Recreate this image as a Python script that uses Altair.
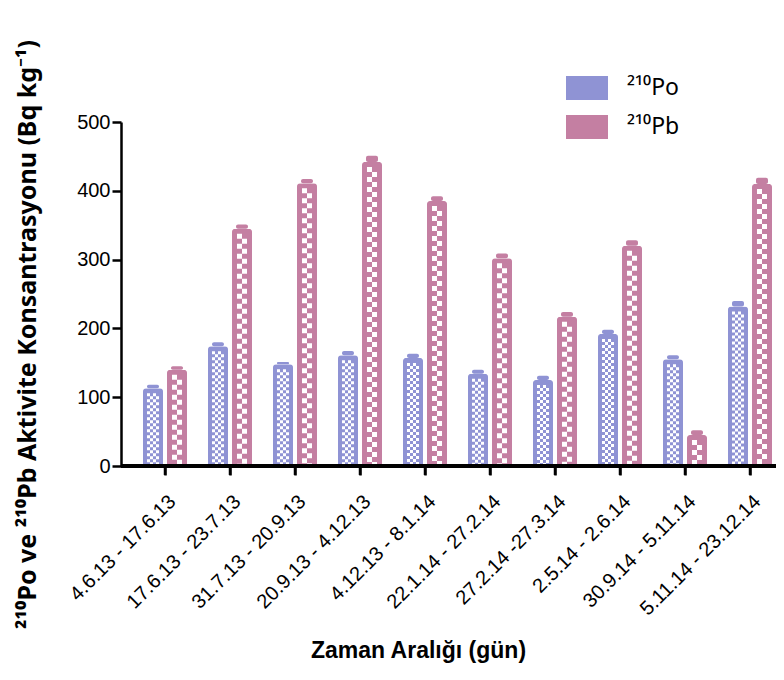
import altair as alt
import pandas as pd

FONT = "Liberation Sans"
SUP_FONT = "Noto Sans"  # consistent superscript digits (⁰¹²⁻)

periods = [
    "4.6.13 - 17.6.13",
    "17.6.13 - 23.7.13",
    "31.7.13 - 20.9.13",
    "20.9.13 - 4.12.13",
    "4.12.13 - 8.1.14",
    "22.1.14 - 27.2.14",
    "27.2.14 -27.3.14",
    "2.5.14 - 2.6.14",
    "30.9.14 - 5.11.14",
    "5.11.14 - 23.12.14",
]
po_values = [113, 174, 148, 161, 157, 134, 125, 192, 155, 232]
po_err = [5, 6, 3, 6, 6, 6, 6, 6, 6, 8]
pb_values = [140, 345, 411, 442, 385, 302, 217, 320, 45, 410]
pb_err = [5, 6, 6, 9, 7, 7, 7, 8, 7, 9]

series_keys = ["Po", "Pb"]
series_labels = ["²¹⁰Po", "²¹⁰Pb"]
colors = ["#8f93d4", "#c47fa2"]

rows = []
for p, v, e in zip(periods, po_values, po_err):
    rows.append({"period": p, "key": series_keys[0], "series": series_labels[0], "value": v, "err": e})
for p, v, e in zip(periods, pb_values, pb_err):
    rows.append({"period": p, "key": series_keys[1], "series": series_labels[1], "value": v, "err": e})
df = pd.DataFrame(rows)

x_enc = alt.X(
    "period:N",
    sort=periods,
    scale=alt.Scale(range=[11.5, 661.5], paddingInner=0, paddingOuter=0),
    axis=alt.Axis(
        title="Zaman Aralığı (gün)",
        domain=False,
        ticks=True,
        tickBand="center",
        tickOffset=0,
        tickSize=9,
        tickWidth=2.5,
        tickColor="#000000",
        tickOpacity=1,
        labelAngle=-45,
        labelFontSize=20,
        labelPadding=16,
        titleFontSize=23,
        titleFontWeight="bold",
        titleX=297,
        titleY=184,
        titleBaseline="middle",
        zindex=1,
    ),
)
y_enc = alt.Y(
    "value:Q",
    scale=alt.Scale(domain=[0, 500], nice=False),
    axis=alt.Axis(
        values=[0, 100, 200, 300, 400, 500],
        title="²¹⁰Po ve ²¹⁰Pb Aktivite Konsantrasyonu (Bq kg⁻¹)",
        titleFont=SUP_FONT,
        titleFontSize=25,
        titleFontWeight="bold",
        titleX=-94,
        titleY=212,
        titleBaseline="middle",
        titleAngle=270,
        grid=False,
        labelFontSize=20,
        labelPadding=2,
    ),
)
xo_scale = alt.Scale(domain=[-32.5, 32.5], range=[0, 65])

color_enc = alt.Color(
    "series:N",
    scale=alt.Scale(domain=series_labels, range=colors),
    legend=alt.Legend(
        title=None,
        orient="none",
        legendX=445,
        legendY=-55,
        symbolType="M-1,-0.5714H1V0.5714H-1Z",
        symbolSize=1764,
        symbolStrokeWidth=0,
        symbolOpacity=1,
        labelFont=SUP_FONT,
        labelFontSize=23,
        labelOffset=19,
        rowPadding=6,
    ),
)

base = alt.Chart(df).transform_calculate(
    off="datum.key == 'Po' ? -12 : 12",
    top="datum.value + datum.err",
)

caps = base.mark_bar(width=12, cornerRadius=2).encode(
    x=x_enc,
    xOffset=alt.XOffset("off:Q", scale=xo_scale),
    y=y_enc,
    y2="top:Q",
    color=color_enc,
)

bars = base.mark_bar(width=20, cornerRadiusTopLeft=3, cornerRadiusTopRight=3).encode(
    x=x_enc,
    xOffset=alt.XOffset("off:Q", scale=xo_scale),
    y=y_enc,
    color=color_enc,
)

layers = [caps, bars]

# checker pattern: Pb -> 2 columns of 5px squares, Po -> 4 columns of 3px squares
pattern_specs = [
    ("Pb", -2.5, 5, 0), ("Pb", 2.5, 5, 5),
    ("Po", -4.5, 3, 0), ("Po", -1.5, 3, 3), ("Po", 1.5, 3, 0), ("Po", 4.5, 3, 3),
]
for key, dx, sz, dash_off in pattern_specs:
    layers.append(
        base.transform_filter(f"datum.key == '{key}'")
        .transform_calculate(col=f"datum.off + ({dx})")
        .mark_rule(
            color="white",
            strokeWidth=sz,
            strokeDash=[sz, sz],
            strokeDashOffset=dash_off,
            strokeCap="butt",
            yOffset=5,
            y2Offset=-1.5,
        )
        .encode(
            x=x_enc,
            xOffset=alt.XOffset("col:Q", scale=xo_scale),
            y=y_enc,
            y2=alt.datum(0),
        )
    )

# x-axis baseline across the whole plot width
baseline = base.mark_rule(color="black", strokeWidth=2.5).encode(y=alt.datum(0))
layers.append(baseline)

# x-axis ticks at each group centre, drawn as thin bars below the axis
tick_bars = (
    base.transform_filter("datum.key == 'Po'")
    .transform_calculate(c="0", y0="0", y1="-13")
    .mark_bar(color="black", width=2.5, clip=False)
    .encode(
        x=x_enc,
        xOffset=alt.XOffset("c:Q", scale=xo_scale),
        y=alt.Y("y0:Q"),
        y2=alt.Y2("y1:Q"),
    )
)
layers.append(tick_bars)

chart = (
    alt.layer(*layers)
    .properties(
        width=655,
        height=344,
        padding={"left": 113, "top": 114, "right": 0, "bottom": 200},
        autosize=alt.AutoSizeParams(type="none"),
        background="white",
    )
    .configure_axis(
        domainColor="black",
        domainWidth=2.5,
        tickColor="black",
        tickWidth=2.5,
        tickSize=9,
        labelColor="black",
        titleColor="black",
        labelFont=FONT,
        titleFont=FONT,
    )
    .configure_legend(labelColor="black")
    .configure_view(stroke=None)
)

chart.save("out.html", embed_options={"renderer": "svg", "actions": False})
